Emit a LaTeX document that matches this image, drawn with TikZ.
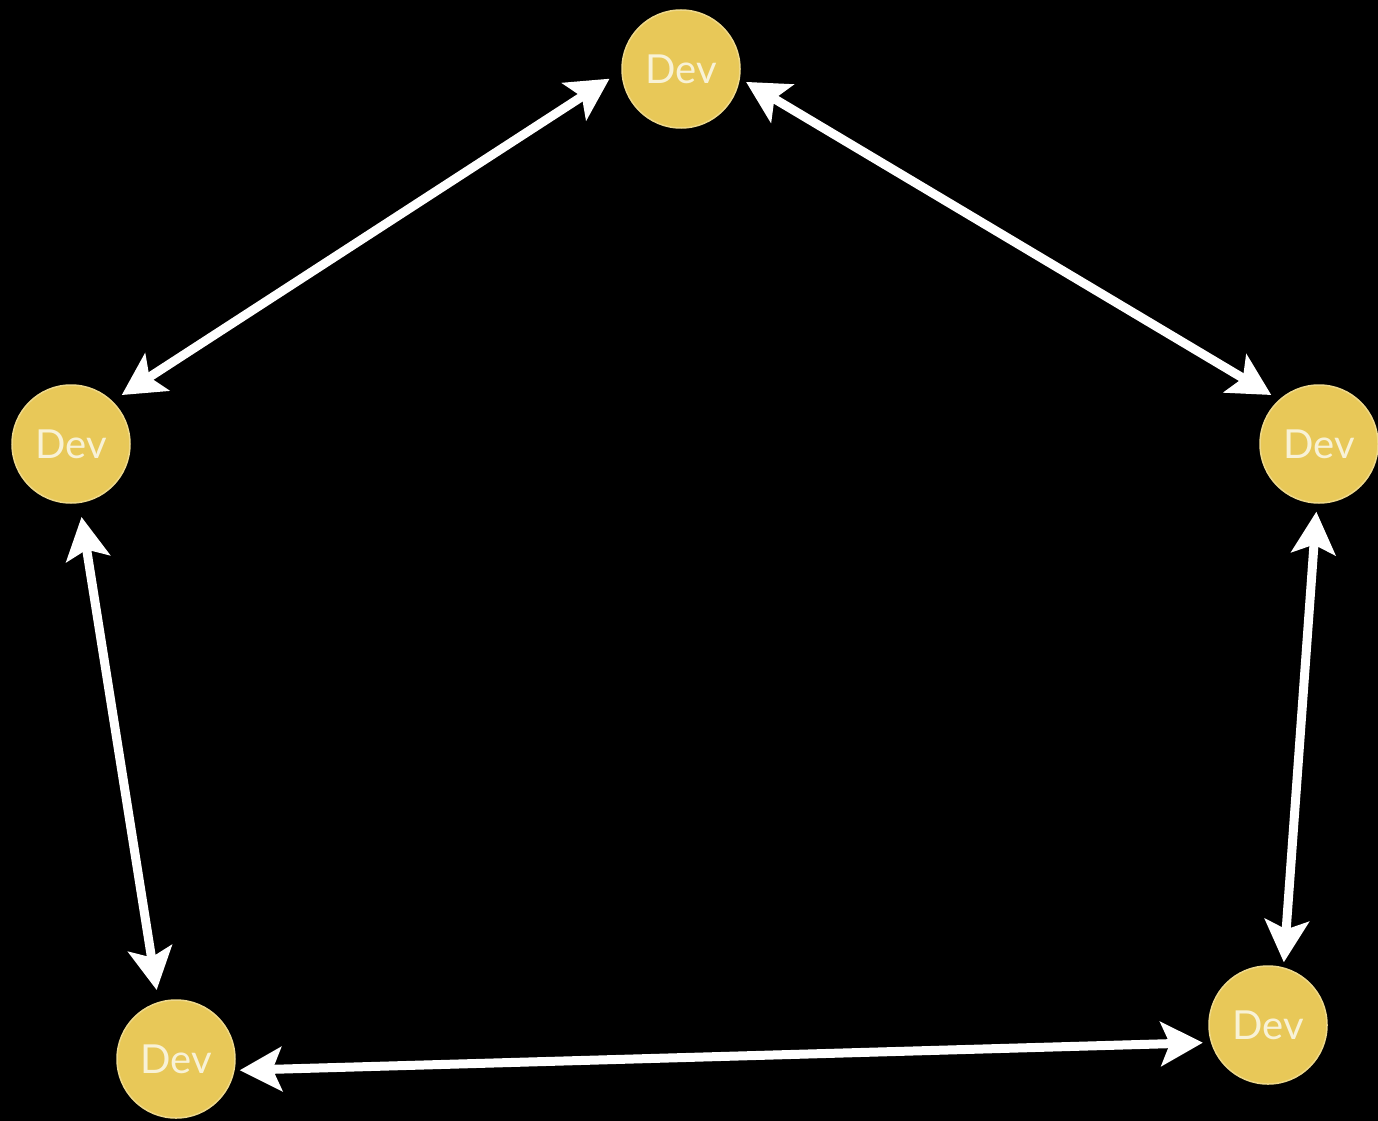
\documentclass[tikz,border=0pt]{standalone}
\usepackage{fontspec}
\setmainfont{Lato}
\usetikzlibrary{arrows.meta}
\definecolor{devfill}{RGB}{232,200,88}
\definecolor{devtext}{RGB}{248,242,215}
\begin{document}
\begin{tikzpicture}[x=1pt,y=-1pt,
  devnode/.style={circle,fill=devfill,draw=devfill!70!white,line width=1.5pt,minimum size=118pt,inner sep=0pt,
    font=\fontsize{40}{40}\selectfont,text=devtext},
  link/.style={white,line width=9pt,{Stealth[length=42pt,width=44pt,inset=9pt]}-{Stealth[length=42pt,width=44pt,inset=9pt]}}]
\fill[black] (0,0) rectangle (1378,1121);
\useasboundingbox (0,0) rectangle (1378,1121);
\node[devnode] (top) at (681,69) {Dev};
\node[devnode] (left) at (71,444) {Dev};
\node[devnode] (right) at (1319,444) {Dev};
\node[devnode] (bl) at (176,1059) {Dev};
\node[devnode] (br) at (1268,1025) {Dev};
\draw[link,shorten <=14pt,shorten >=11pt] (top.182) -- (left.46);
\draw[link,shorten <=7pt,shorten >=9pt] (top.-9.5) -- (right.132.7);
\draw[link,shorten <=14pt,shorten >=12pt] (left.-82) -- (bl.107);
\draw[link,shorten <=8pt,shorten >=5pt] (right.-92) -- (br.75);
\draw[link,shorten <=5pt,shorten >=8pt] (bl.-11.5) -- (br.197);
\end{tikzpicture}
\end{document}
